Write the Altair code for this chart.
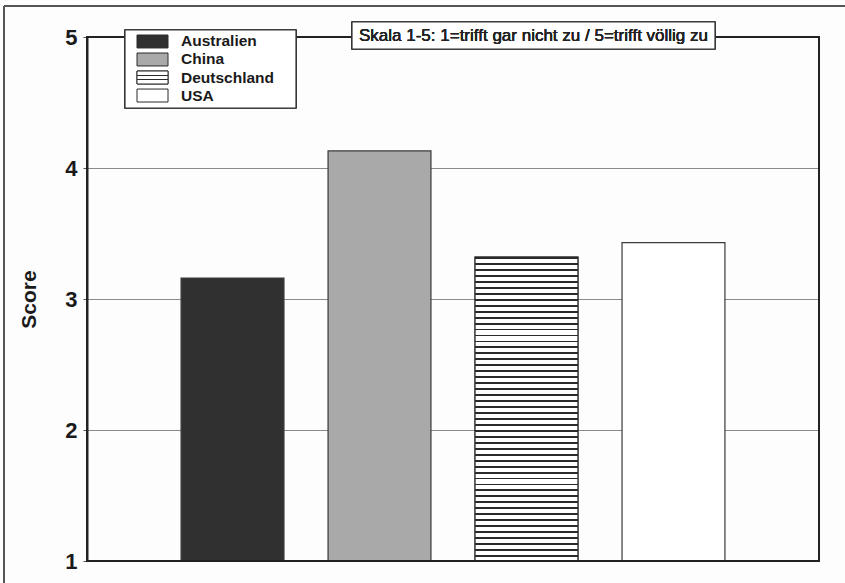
import altair as alt
import pandas as pd

# Mean agreement score per country (scale 1-5)
countries = ["Australien", "China", "Deutschland", "USA"]
scores = [3.16, 4.13, 3.32, 3.43]
fills = ["#303030", "#a9a9a9", "#ffffff", "#ffffff"]

df = pd.DataFrame({"Land": countries, "Score": scores})

W, H = 732, 524
FONT = "Liberation Sans"


def stripes(n, dark=0.32, color="#2a2a2a"):
    """Horizontal hatching as a hard-edged vertical gradient."""
    stops = []
    for i in range(n):
        a = i / n
        b = (i + dark) / n
        stops += [
            alt.GradientStop(color=color, offset=a),
            alt.GradientStop(color=color, offset=b),
            alt.GradientStop(color="#ffffff", offset=b),
            alt.GradientStop(color="#ffffff", offset=(i + 1) / n),
        ]
    return alt.LinearGradient(gradient="linear", stops=stops, x1=0, x2=0, y1=0, y2=1)


def swatch_stripes(color="#2a2a2a"):
    stops = []
    for a, b in [(0.30, 0.40), (0.62, 0.72)]:
        stops += [
            alt.GradientStop(color="#ffffff", offset=a),
            alt.GradientStop(color=color, offset=a),
            alt.GradientStop(color=color, offset=b),
            alt.GradientStop(color="#ffffff", offset=b),
        ]
    return alt.LinearGradient(gradient="linear", stops=stops, x1=0, x2=0, y1=0, y2=1)


x_enc = alt.X(
    "Land:N",
    sort=countries,
    scale=alt.Scale(paddingInner=0.3, paddingOuter=0.64),
    axis=None,
)
y_enc = alt.Y(
    "Score:Q",
    scale=alt.Scale(domain=[1, 5], nice=False, zero=False),
    axis=alt.Axis(
        values=[1, 2, 3, 4, 5],
        format="d",
        title="Score",
        titleFont=FONT,
        titleFontSize=21,
        titleFontWeight="bold",
        titleColor="#1a1a1a",
        titlePadding=25,
        labelFont=FONT,
        labelFontSize=22,
        labelFontWeight="bold",
        labelColor="#1a1a1a",
        labelPadding=6,
        tickSize=4,
        tickColor="#555555",
        domainColor="#222222",
        domainWidth=2,
        grid=True,
        gridColor="#8a8a8a",
        gridWidth=1,
    ),
)

base = alt.Chart(df)

bars = base.mark_bar(stroke="#3a3a3a", strokeWidth=1.2).encode(
    x=x_enc,
    y=y_enc,
    y2=alt.datum(1),
    fill=alt.Fill("Land:N", scale=alt.Scale(domain=countries, range=fills), legend=None),
)

hatched = (
    base.transform_filter(alt.datum.Land == "Deutschland")
    .mark_bar(fill=stripes(51), stroke="#2a2a2a", strokeWidth=1.2)
    .encode(x=x_enc, y=y_enc, y2=alt.datum(1))
)

plot = alt.layer(bars, hatched).resolve_scale(y="shared").resolve_axis(y="shared")

# plot frame
frame = alt.Chart(df).mark_rect(fill=None, stroke="#222222", strokeWidth=2).encode(
    x=alt.value(0), x2=alt.value("width"), y=alt.value(0), y2=alt.value("height")
)

# outer page frame (top and left edges)
page_top = alt.Chart(df).mark_rule(color="#555555", strokeWidth=2).encode(
    x=alt.value(-83), x2=alt.value(W + 30), y=alt.value(-31)
)
page_left = alt.Chart(df).mark_rule(color="#555555", strokeWidth=2).encode(
    x=alt.value(-83), y=alt.value(-31), y2=alt.value(H + 30)
)

# legend box
leg_box = alt.Chart(df).mark_rect(fill="white", stroke="#333333", strokeWidth=1.2).encode(
    x=alt.value(38), x2=alt.value(209), y=alt.value(-7), y2=alt.value(71)
)
leg_scale = alt.Scale(domain=countries, range=[-2, 65], paddingInner=0.28, paddingOuter=0)
leg_y = alt.Y("Land:N", sort=countries, scale=leg_scale, axis=None)
leg_rect = base.mark_rect(stroke="#2a2a2a", strokeWidth=1).encode(
    x=alt.value(50),
    x2=alt.value(81),
    y=leg_y,
    fill=alt.Fill("Land:N", scale=alt.Scale(domain=countries, range=fills), legend=None),
)
leg_hatch = (
    base.transform_filter(alt.datum.Land == "Deutschland")
    .mark_rect(fill=swatch_stripes(), stroke="#2a2a2a", strokeWidth=1)
    .encode(x=alt.value(50), x2=alt.value(81), y=leg_y)
)
leg_text = base.mark_text(
    align="left", baseline="middle", font=FONT, fontSize=15.5, fontWeight="bold", color="#1a1a1a"
).encode(
    x=alt.value(94),
    y=alt.Y("Land:N", sort=countries, bandPosition=0.5, scale=leg_scale, axis=None),
    text="Land:N",
)
legend = alt.layer(leg_box, leg_rect, leg_hatch, leg_text)

# scale note box
note_box = alt.Chart(df).mark_rect(fill="white", stroke="#333333", strokeWidth=1.2).encode(
    x=alt.value(265), x2=alt.value(628), y=alt.value(-15), y2=alt.value(12)
)
note_text = alt.Chart(df).mark_text(
    align="center", baseline="middle", font=FONT, fontSize=17, color="#222222"
).encode(
    x=alt.value(446.5),
    y=alt.value(-1),
    text=alt.value("Skala 1-5: 1=trifft gar nicht zu / 5=trifft völlig zu"),
)

chart = (
    alt.layer(page_top, page_left, plot, frame, legend, note_box, note_text)
    .resolve_scale(y="independent", fill="independent")
    .properties(
        width=W,
        height=H,
        padding={"left": 87, "top": 37, "right": 26, "bottom": 22},
        autosize=alt.AutoSizeParams(type="none"),
        background="#fdfdfd",
    )
    .configure_view(stroke=None)
)

chart.save("out.html", embed_options={"renderer": "svg", "actions": False})
